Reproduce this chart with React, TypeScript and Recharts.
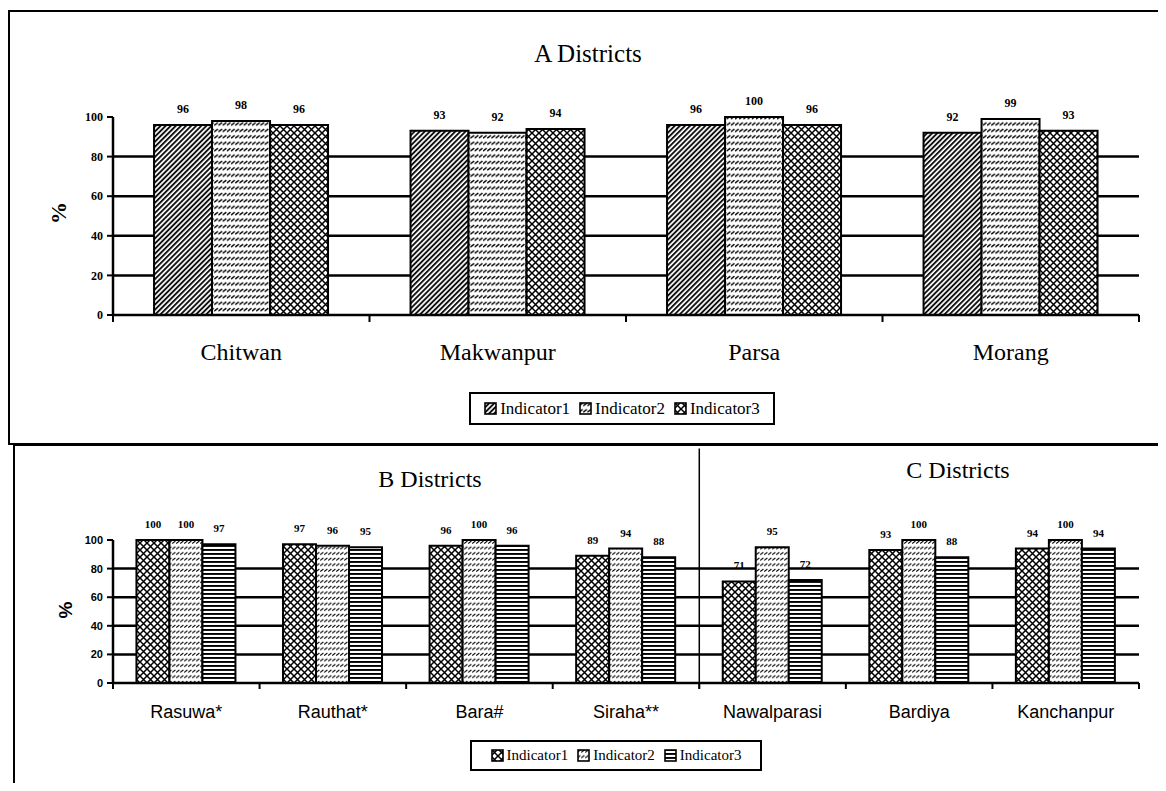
import React from 'react';
import { BarChart, Bar, XAxis, YAxis, CartesianGrid, LabelList, ReferenceLine } from 'recharts';

// ---------- data ----------
const seriesNames = ['Indicator1', 'Indicator2', 'Indicator3'];

const aDistricts = ['Chitwan', 'Makwanpur', 'Parsa', 'Morang'];
const aIndicator1 = [96, 93, 96, 92];
const aIndicator2 = [98, 92, 100, 99];
const aIndicator3 = [96, 94, 96, 93];

const bcDistricts = ['Rasuwa*', 'Rauthat*', 'Bara#', 'Siraha**', 'Nawalparasi', 'Bardiya', 'Kanchanpur'];
const bcIndicator1 = [100, 97, 96, 89, 71, 93, 94];
const bcIndicator2 = [100, 96, 100, 94, 95, 100, 100];
const bcIndicator3 = [97, 95, 96, 88, 72, 88, 94];
const bDistrictCount = 4; // B districts are the first four, C districts the rest

const yTicks = [0, 20, 40, 60, 80, 100];
const gridTicks = [20, 40, 60, 80];

const titleA = 'A Districts';
const titleB = 'B Districts';
const titleC = 'C Districts';

// pos = centre of each category in "category-boundary" units (0 .. n)
const aData = aDistricts.map((name, i) => ({ name, pos: i + 0.5, i1: aIndicator1[i], i2: aIndicator2[i], i3: aIndicator3[i] }));
const bcData = bcDistricts.map((name, i) => ({ name, pos: i + 0.5, i1: bcIndicator1[i], i2: bcIndicator2[i], i3: bcIndicator3[i] }));
const aBounds = Array.from({ length: aDistricts.length + 1 }, (_, i) => i);
const bcBounds = Array.from({ length: bcDistricts.length + 1 }, (_, i) => i);

const SERIF = 'Liberation Serif';
const SANS = 'Liberation Sans';

const NoTick = () => <g />;

function Patterns() {
  return (
    <defs>
      <pattern id="pDiag" patternUnits="userSpaceOnUse" width="3.6" height="3.6" patternTransform="rotate(45)">
        <rect width="3.6" height="3.6" fill="#fff" />
        <rect width="1.9" height="3.6" fill="#111" />
      </pattern>
      <pattern id="pDash" patternUnits="userSpaceOnUse" width="4.2" height="6.4">
        <rect width="4.2" height="6.4" fill="#fff" />
        <path d="M0.1,3.9 L3.7,1.0" stroke="#000" strokeWidth="1.4" />
      </pattern>
      <pattern id="pDash2" patternUnits="userSpaceOnUse" width="4" height="5.6">
        <rect width="4" height="5.6" fill="#fff" />
        <path d="M0.2,3.4 L3.4,0.9" stroke="#000" strokeWidth="1.1" />
      </pattern>
      <pattern id="pCross" patternUnits="userSpaceOnUse" width="7" height="7">
        <rect width="7" height="7" fill="#fff" />
        <path d="M0,0 L7,7 M7,0 L0,7" stroke="#000" strokeWidth="1.5" />
      </pattern>
      <pattern id="pHLine" patternUnits="userSpaceOnUse" width="4" height="4">
        <rect width="4" height="4" fill="#fff" />
        <rect width="4" height="1.9" fill="#000" />
      </pattern>
    </defs>
  );
}

function Swatch({ pid }: { pid: string }) {
  return (
    <svg width="13" height="13" style={{ display: 'block' }}>
      <rect x="1" y="1" width="11" height="11" fill={`url(#${pid})`} stroke="#000" strokeWidth="1.6" />
    </svg>
  );
}

function LegendBox({ pids, left, top, width, height, fontSize }: any) {
  return (
    <div
      style={{
        position: 'absolute', left, top, width, height, boxSizing: 'border-box',
        border: '2px solid #000', background: '#fff', display: 'flex', alignItems: 'center',
        justifyContent: 'center', gap: 9, fontFamily: SERIF, fontSize, color: '#000',
      }}
    >
      {seriesNames.map((n, i) => (
        <div key={n} style={{ display: 'flex', alignItems: 'center', gap: 3 }}>
          <Swatch pid={pids[i]} />
          <span style={{ fontFamily: SERIF, fontSize }}>{n}</span>
        </div>
      ))}
    </div>
  );
}

function Title({ text, x, y, size }: any) {
  return (
    <div
      style={{
        position: 'absolute', left: x, top: y, transform: 'translate(-50%, -50%)',
        fontFamily: SERIF, fontSize: size, lineHeight: 1, whiteSpace: 'nowrap', color: '#000',
      }}
    >
      {text}
    </div>
  );
}

function PctLabel({ x, y, family, size }: any) {
  return (
    <div
      style={{
        position: 'absolute', left: x, top: y, transform: 'translate(-50%, -50%) rotate(-90deg)',
        fontFamily: family, fontSize: size, fontWeight: 'bold', lineHeight: 1, color: '#000',
      }}
    >
      %
    </div>
  );
}

export default function App() {
  const topTick = (p: any) => (
    <text x={p.x} y={p.y + 37} textAnchor="middle" fontFamily={SERIF} fontSize={24} fill="#000">
      {p.payload.value}
    </text>
  );
  const botTick = (p: any) => (
    <text x={p.x} y={p.y + 27} textAnchor="middle" fontFamily={SANS} fontSize={18} fill="#000">
      {p.payload.value}
    </text>
  );

  return (
    <div style={{ position: 'relative', width: 1166, height: 791, margin: -8, overflow: 'hidden', background: '#fff' }}>
      {/* panel frames */}
      <div style={{ position: 'absolute', left: 8, top: 10, width: 1170, height: 435, boxSizing: 'border-box', border: '2px solid #000' }} />
      <div style={{ position: 'absolute', left: 13, top: 444, width: 1170, height: 360, boxSizing: 'border-box', borderLeft: '2px solid #000', borderTop: '2px solid #000' }} />

      {/* Top chart: A districts */}
      <div style={{ position: 'absolute', left: 0, top: 0 }}>
        <BarChart
          width={1166}
          height={445}
          data={aData}
          margin={{ top: 117, right: 27, bottom: 82, left: 53 }}
          barCategoryGap="16%"
          barGap={0}
        >
          <Patterns />
          <CartesianGrid vertical={false} horizontalValues={gridTicks} stroke="#000" strokeWidth={2.5} yAxisId="val" xAxisId="cat" />
          <XAxis
            xAxisId="bound" type="number" dataKey="pos" domain={[0, aDistricts.length]} ticks={aBounds}
            height={8} tick={NoTick} tickSize={7} axisLine={{ stroke: '#000', strokeWidth: 2.5 }}
            tickLine={{ stroke: '#000', strokeWidth: 2 }} allowDataOverflow
          />
          <XAxis xAxisId="cat" dataKey="name" height={40} axisLine={false} tickLine={false} tickSize={0} tickMargin={0} tick={topTick} interval={0} />
          <YAxis
            yAxisId="val" domain={[0, 100]} ticks={yTicks} width={60} tickSize={6} tickMargin={4}
            axisLine={{ stroke: '#000', strokeWidth: 2.5 }} tickLine={{ stroke: '#000', strokeWidth: 2 }}
            tick={{ fontFamily: SERIF, fontSize: 12, fontWeight: 'bold', fill: '#000' }}
          />
          <Bar dataKey="i1" name={seriesNames[0]} xAxisId="cat" yAxisId="val" fill="url(#pDiag)" stroke="#000" strokeWidth={2} isAnimationActive={false}>
            <LabelList dataKey="i1" position="top" offset={12} fill="#000" fontSize={12} fontWeight="bold" fontFamily={SERIF} />
          </Bar>
          <Bar dataKey="i2" name={seriesNames[1]} xAxisId="cat" yAxisId="val" fill="url(#pDash)" stroke="#000" strokeWidth={2} isAnimationActive={false}>
            <LabelList dataKey="i2" position="top" offset={12} fill="#000" fontSize={12} fontWeight="bold" fontFamily={SERIF} />
          </Bar>
          <Bar dataKey="i3" name={seriesNames[2]} xAxisId="cat" yAxisId="val" fill="url(#pCross)" stroke="#000" strokeWidth={2} isAnimationActive={false}>
            <LabelList dataKey="i3" position="top" offset={12} fill="#000" fontSize={12} fontWeight="bold" fontFamily={SERIF} />
          </Bar>
        </BarChart>
      </div>

      {/* Bottom chart: B and C districts */}
      <div style={{ position: 'absolute', left: 0, top: 445 }}>
        <BarChart
          width={1166}
          height={346}
          data={bcData}
          margin={{ top: 95, right: 27, bottom: 60, left: 53 }}
          barCategoryGap="16%"
          barGap={0}
        >
          <CartesianGrid vertical={false} horizontalValues={gridTicks} stroke="#000" strokeWidth={2.5} yAxisId="val" xAxisId="cat" />
          <XAxis
            xAxisId="bound" type="number" dataKey="pos" domain={[0, bcDistricts.length]} ticks={bcBounds}
            height={8} tick={NoTick} tickSize={6} axisLine={{ stroke: '#000', strokeWidth: 2.5 }}
            tickLine={{ stroke: '#000', strokeWidth: 2 }} allowDataOverflow
          />
          <XAxis xAxisId="cat" dataKey="name" height={40} axisLine={false} tickLine={false} tickSize={0} tickMargin={0} tick={botTick} interval={0} />
          <YAxis
            yAxisId="val" domain={[0, 100]} ticks={yTicks} width={60} tickSize={6} tickMargin={4}
            axisLine={{ stroke: '#000', strokeWidth: 2.5 }} tickLine={{ stroke: '#000', strokeWidth: 2 }}
            tick={{ fontFamily: SANS, fontSize: 11, fontWeight: 'bold', fill: '#000' }}
          />
          <ReferenceLine
            xAxisId="bound" yAxisId="val" ifOverflow="visible" stroke="#000" strokeWidth={1.5}
            segment={[{ x: bDistrictCount, y: -4 }, { x: bDistrictCount, y: 164 }]}
          />
          <Bar dataKey="i1" name={seriesNames[0]} xAxisId="cat" yAxisId="val" fill="url(#pCross)" stroke="#000" strokeWidth={2} isAnimationActive={false}>
            <LabelList dataKey="i1" position="top" offset={12} fill="#000" fontSize={11} fontWeight="bold" fontFamily={SERIF} />
          </Bar>
          <Bar dataKey="i2" name={seriesNames[1]} xAxisId="cat" yAxisId="val" fill="url(#pDash2)" stroke="#000" strokeWidth={2} isAnimationActive={false}>
            <LabelList dataKey="i2" position="top" offset={12} fill="#000" fontSize={11} fontWeight="bold" fontFamily={SERIF} />
          </Bar>
          <Bar dataKey="i3" name={seriesNames[2]} xAxisId="cat" yAxisId="val" fill="url(#pHLine)" stroke="#000" strokeWidth={2} isAnimationActive={false}>
            <LabelList dataKey="i3" position="top" offset={12} fill="#000" fontSize={11} fontWeight="bold" fontFamily={SERIF} />
          </Bar>
        </BarChart>
      </div>

      {/* titles, axis labels, legends */}
      <Title text={titleA} x={588} y={53} size={25} />
      <Title text={titleB} x={430} y={479} size={24} />
      <Title text={titleC} x={958} y={470} size={24} />
      <PctLabel x={59} y={213} family={SERIF} size={22} />
      <PctLabel x={65} y={610} family={SANS} size={19} />
      <LegendBox pids={['pDiag', 'pDash', 'pCross']} left={469} top={392} width={306} height={33} fontSize={17} />
      <LegendBox pids={['pCross', 'pDash2', 'pHLine']} left={470} top={740} width={292} height={31} fontSize={15} />
    </div>
  );
}
